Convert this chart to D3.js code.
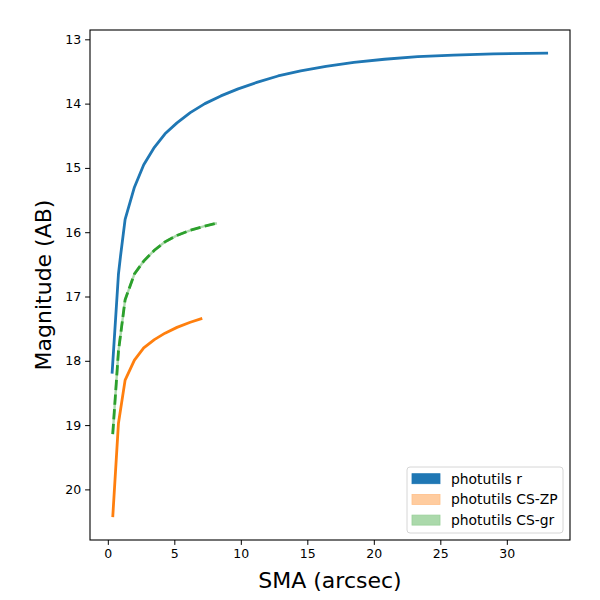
<!DOCTYPE html>
<html>
<head>
<meta charset="utf-8">
<script src="https://cdn.jsdelivr.net/npm/d3@7"></script>
<style>
  body { margin: 0; background: #fff; }
  svg { font-family: "DejaVu Sans", sans-serif; }
</style>
</head>
<body>
<svg id="chart" width="600" height="600"></svg>
<script>
// photutils r band growth curve
let smaR = [0.32, 0.8, 0.95, 1.3, 2.0, 2.7, 3.5, 4.3, 5.2, 6.2, 7.3, 8.5, 9.8, 11.2, 12.8, 14.5, 16.4, 18.5, 20.8, 23.3, 26.0, 29.0, 33.1];
let magR = [18.2, 16.65, 16.38, 15.8, 15.3, 14.95, 14.68, 14.47, 14.3, 14.14, 14.0, 13.88, 13.77, 13.67, 13.57, 13.49, 13.42, 13.36, 13.31, 13.27, 13.245, 13.225, 13.215];

// CS-ZP
let smaZP = [0.37, 0.8, 1.3, 2.0, 2.7, 3.5, 4.3, 5.2, 6.2, 7.1];
let magZP = [20.43, 18.97, 18.3, 17.99, 17.8, 17.67, 17.57, 17.48, 17.4, 17.34];

// CS-gr
let smaGR = [0.37, 0.8, 1.3, 2.0, 2.7, 3.5, 4.3, 5.2, 6.2, 7.2, 8.2];
let magGR = [19.14, 17.85, 17.05, 16.65, 16.45, 16.28, 16.15, 16.05, 15.97, 15.91, 15.86];

let legendLabels = ["photutils r", "photutils CS-ZP", "photutils CS-gr"];
let xTicks = [0, 5, 10, 15, 20, 25, 30];
let yTicks = [13, 14, 15, 16, 17, 18, 19, 20];

var DrawChart = function(){
  let svg = d3.select("#chart");
  let margin = { top: 30, right: 30, bottom: 60, left: 90 };
  let plotWidth = 600 - margin.left - margin.right;
  let plotHeight = 600 - margin.top - margin.bottom;

  let xScale = d3.scaleLinear().domain([-1.34, 34.75]).range([0, plotWidth]);
  // magnitudes: brighter at top
  let yScale = d3.scaleLinear().domain([12.855, 20.787]).range([0, plotHeight]);

  let plot = svg.append("g").attr("id", "plot")
    .attr("transform", "translate(" + margin.left + "," + margin.top + ")");

  let line = d3.line()
    .x(d => xScale(d[0]))
    .y(d => yScale(d[1]));

  let zip = (a, b) => a.map((v, i) => [v, b[i]]);

  // light band under the gr curve
  plot.append("path")
    .datum(zip(smaGR, magGR))
    .attr("d", line)
    .attr("fill", "none")
    .attr("stroke", "#abd9ab")
    .attr("stroke-width", 2.4);

  plot.append("path")
    .datum(zip(smaR, magR))
    .attr("d", line)
    .attr("fill", "none")
    .attr("stroke", "#1f77b4")
    .attr("stroke-width", 2.8)
    .attr("stroke-linejoin", "round");

  plot.append("path")
    .datum(zip(smaZP, magZP))
    .attr("d", line)
    .attr("fill", "none")
    .attr("stroke", "#ff7f0e")
    .attr("stroke-width", 2.8)
    .attr("stroke-linejoin", "round");

  plot.append("path")
    .datum(zip(smaGR, magGR))
    .attr("d", line)
    .attr("fill", "none")
    .attr("stroke", "#2ca02c")
    .attr("stroke-width", 2.8)
    .attr("stroke-dasharray", "10.3,4.4");

  let xAxis = d3.axisBottom(xScale).tickValues(xTicks).tickSize(4.9).tickPadding(4);
  let yAxis = d3.axisLeft(yScale).tickValues(yTicks).tickSize(4.9).tickPadding(4);

  let xGroup = plot.append("g").attr("id", "x-axis")
    .attr("transform", "translate(0," + plotHeight + ")")
    .call(xAxis);
  let yGroup = plot.append("g").attr("id", "y-axis").call(yAxis);

  [xGroup, yGroup].forEach(g => {
    g.select(".domain").remove();
    g.selectAll(".tick line").attr("stroke", "#000").attr("stroke-width", 1);
    g.selectAll(".tick text")
      .attr("fill", "#000")
      .style("font-size", "12.5px")
      .style("font-family", "DejaVu Sans");
  });

  // frame
  plot.append("rect")
    .attr("x", 0).attr("y", 0)
    .attr("width", plotWidth).attr("height", plotHeight)
    .attr("fill", "none").attr("stroke", "#000").attr("stroke-width", 1.1);

  svg.append("text")
    .text("SMA (arcsec)")
    .attr("x", margin.left + plotWidth / 2)
    .attr("y", 588)
    .attr("text-anchor", "middle")
    .style("font-size", "22px");

  svg.append("text")
    .text("Magnitude (AB)")
    .attr("transform", "translate(51," + (margin.top + plotHeight / 2) + ") rotate(-90)")
    .attr("text-anchor", "middle")
    .style("font-size", "22px");

  // legend
  let legend = svg.append("g").attr("transform", "translate(407,467)");
  legend.append("rect")
    .attr("width", 156).attr("height", 66)
    .attr("rx", 3)
    .attr("fill", "#fff").attr("fill-opacity", 0.8)
    .attr("stroke", "#d6d6d6");
  let patchColors = ["#1f77b4", "#ffcc9f", "#abd9ab"];
  let patchEdges = ["#1f77b4", "#ffc08a", "#98d098"];
  legendLabels.forEach((lab, i) => {
    let yy = 11.7 + i * 20.7;
    legend.append("rect")
      .attr("x", 5).attr("y", yy - 5)
      .attr("width", 28).attr("height", 10)
      .attr("fill", patchColors[i])
      .attr("stroke", patchEdges[i]).attr("stroke-width", 0.8);
    legend.append("text")
      .text(lab)
      .attr("x", 44).attr("y", yy + 5)
      .style("font-size", "13.9px")
      .attr("fill", "#000");
  });
};
DrawChart();
</script>
</body>
</html>
